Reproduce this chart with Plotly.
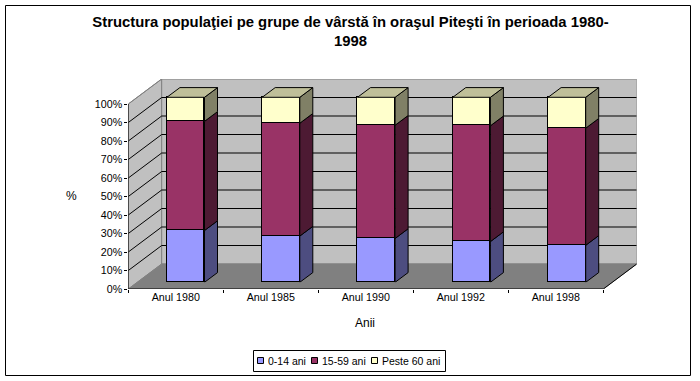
import plotly.graph_objects as go

categories = ["Anul 1980", "Anul 1985", "Anul 1990", "Anul 1992", "Anul 1998"]
series_names = ["0-14 ani", "15-59 ani", "Peste 60 ani"]
young = [28.0, 25.0, 23.7, 22.0, 20.0]
adult = [59.0, 61.0, 61.2, 62.6, 63.3]
senior = [13.0, 14.0, 15.1, 15.4, 16.7]
y_ticks = list(range(0, 101, 10))

front_colors = ["#9999FF", "#993366", "#FFFFCC"]
side_colors = ["#4D4D80", "#4D1A33", "#808066"]
top_color = "#BFBF99"

W, H = 700, 381
L, R, B, T = 128.3, 603.3, 289.0, 104.0      # front plane in pixels
WALL_DX, WALL_DY = 33.4, 25.0                # chart depth in pixels
SHIFT_DX, SHIFT_DY = 9.9, 6.7                # bars sit this far behind the front plane
BAR_DX, BAR_DY = 13.0, 9.7                   # bar depth in pixels
BAR_SPACING = 95.3                           # bar centre distance in pixels
BAR_PX = 37.6                                # bar width in pixels

ux = (R - L) / 5
uy = (B - T) / 100
wdx, wdy = WALL_DX / ux, WALL_DY / uy
BAR_W = BAR_PX / BAR_SPACING
bdx, bdy = BAR_DX / BAR_SPACING, BAR_DY / uy
X0, X1 = -0.5, 4.5
idx = list(range(len(categories)))

fig = go.Figure()


def poly(xs, ys, fill=None, line="black", width=1, axes=("x", "y")):
    fig.add_trace(go.Scatter(
        x=xs, y=ys, mode="lines", xaxis=axes[0], yaxis=axes[1],
        fill="toself" if fill else None, fillcolor=fill,
        line=dict(color=line, width=width),
        cliponaxis=False, showlegend=False, hoverinfo="skip",
    ))


GREY = "#808080"
# left wall, back wall, floor
poly([X0, X0 + wdx, X0 + wdx, X0, X0], [0, wdy, 100 + wdy, 100, 0], fill="#C0C0C0", line=GREY)
poly([X0 + wdx, X1 + wdx, X1 + wdx, X0 + wdx, X0 + wdx],
     [wdy, wdy, 100 + wdy, 100 + wdy, wdy], fill="#C0C0C0", line=GREY)
poly([X0, X1, X1 + wdx, X0 + wdx, X0], [0, 0, wdy, wdy, 0], fill=GREY, line=GREY)
# gridlines
for v in y_ticks[1:-1]:
    poly([X0, X0 + wdx, X1 + wdx], [v, v + wdy, v + wdy])
poly([X0, X0 + wdx], [100, 100 + wdy], line=GREY)
poly([X1, X1 + wdx], [0, wdy])
# axis lines
poly([X0, X0, X1], [100, 0, 0])

# bars: front faces through the bar trace
stack = [young, adult, senior]
for name, vals, col in zip(series_names, stack, front_colors):
    fig.add_trace(go.Bar(
        x=idx, y=vals, name=name, xaxis="x2", yaxis="y2", width=BAR_W,
        marker=dict(color=col, line=dict(color="black", width=1)),
        hoverinfo="skip", showlegend=False,
    ))

# bars: side and top faces
for i in idx:
    xr = i + BAR_W / 2
    xl = i - BAR_W / 2
    base = 0.0
    for vals, col in zip(stack, side_colors):
        top = base + vals[i]
        poly([xr, xr + bdx, xr + bdx, xr, xr],
             [base, base + bdy, top + bdy, top, base], fill=col, axes=("x2", "y2"))
        base = top
    poly([xl, xr, xr + bdx, xl + bdx, xl],
         [base, base, base + bdy, base + bdy, base], fill=top_color, axes=("x2", "y2"))

font = dict(family="Liberation Sans, Arial, sans-serif", color="black")
axis_font = dict(size=10.7, **font)


def px(v):
    return v / W


def py(v):
    return 1 - v / H


def note(text, x, y, size=12, xanchor="center"):
    return dict(text=text, xref="paper", yref="paper", x=px(x), y=py(y), xanchor=xanchor,
                yanchor="middle", showarrow=False, font=dict(size=size, **font))


def rect(x0, x1, y0, y1, fill="rgba(0,0,0,0)"):
    return dict(type="rect", xref="paper", yref="paper", x0=px(x0), x1=px(x1), y0=py(y1), y1=py(y0),
                line=dict(color="black", width=1), fillcolor=fill, layer="above")


# manual legend, in the compact form of the reference
legend_swatch_x = [257.5, 311.5, 371.5]
legend_text_x = [265.5, 319.5, 379.5]
annotations = [note("%", 71, 196), note("Anii", 365, 323)]
shapes = [rect(5.5, 690.5, 5.5, 375.5), rect(253.5, 445.5, 350.5, 371.5, "white")]
for name, col, sx, tx in zip(series_names, front_colors, legend_swatch_x, legend_text_x):
    shapes.append(rect(sx, sx + 6, 357.5, 363.5, col))
    annotations.append(note(name, tx, 360.5, size=10.5, xanchor="left"))

x2_span = 5 + wdx * ux / BAR_SPACING   # same range length, scaled to the bar spacing
fig.update_layout(
    width=W, height=H,
    margin=dict(l=0, r=0, t=0, b=0),
    paper_bgcolor="white", plot_bgcolor="rgba(0,0,0,0)",
    barmode="stack", bargap=0, showlegend=False,
    title=dict(
        text="<b>Structura populaţiei pe grupe de vârstă în oraşul Piteşti în perioada 1980-<br>1998</b>",
        x=350.5 / W, xanchor="center", y=1 - 27 / H, yanchor="top",
        font=dict(size=14.85, **font),
    ),
    xaxis=dict(
        domain=[px(L), px(R + WALL_DX)], range=[X0, X1 + wdx], tickvals=idx, ticktext=categories,
        ticks="", ticklen=0, tickfont=axis_font, showgrid=False, zeroline=False, showline=False,
        minor=dict(tickvals=[k - 0.5 for k in range(6)], ticks="outside", ticklen=3,
                   tickcolor="black", tickwidth=1, showgrid=False),
        automargin=False,
    ),
    yaxis=dict(
        domain=[py(B), py(T - WALL_DY)], range=[0, 100 + wdy], tickvals=y_ticks,
        ticktext=[f"{v}%" for v in y_ticks], ticks="outside", ticklen=3,
        tickcolor="black", tickfont=axis_font, showgrid=False, zeroline=False,
        showline=False, automargin=False,
    ),
    xaxis2=dict(
        domain=[px(L + SHIFT_DX - 0.15), px(L + SHIFT_DX - 0.15 + x2_span * BAR_SPACING)],
        range=[X0, X0 + x2_span], visible=False, anchor="y2",
    ),
    yaxis2=dict(
        domain=[py(B - SHIFT_DY), py(T - WALL_DY - SHIFT_DY)], range=[0, 100 + wdy],
        visible=False, anchor="x2",
    ),
    annotations=annotations,
    shapes=shapes,
)

fig.write_html("out.html", config={"displayModeBar": False},
               post_script="document.body.style.margin='0';document.body.style.overflow='hidden';")
